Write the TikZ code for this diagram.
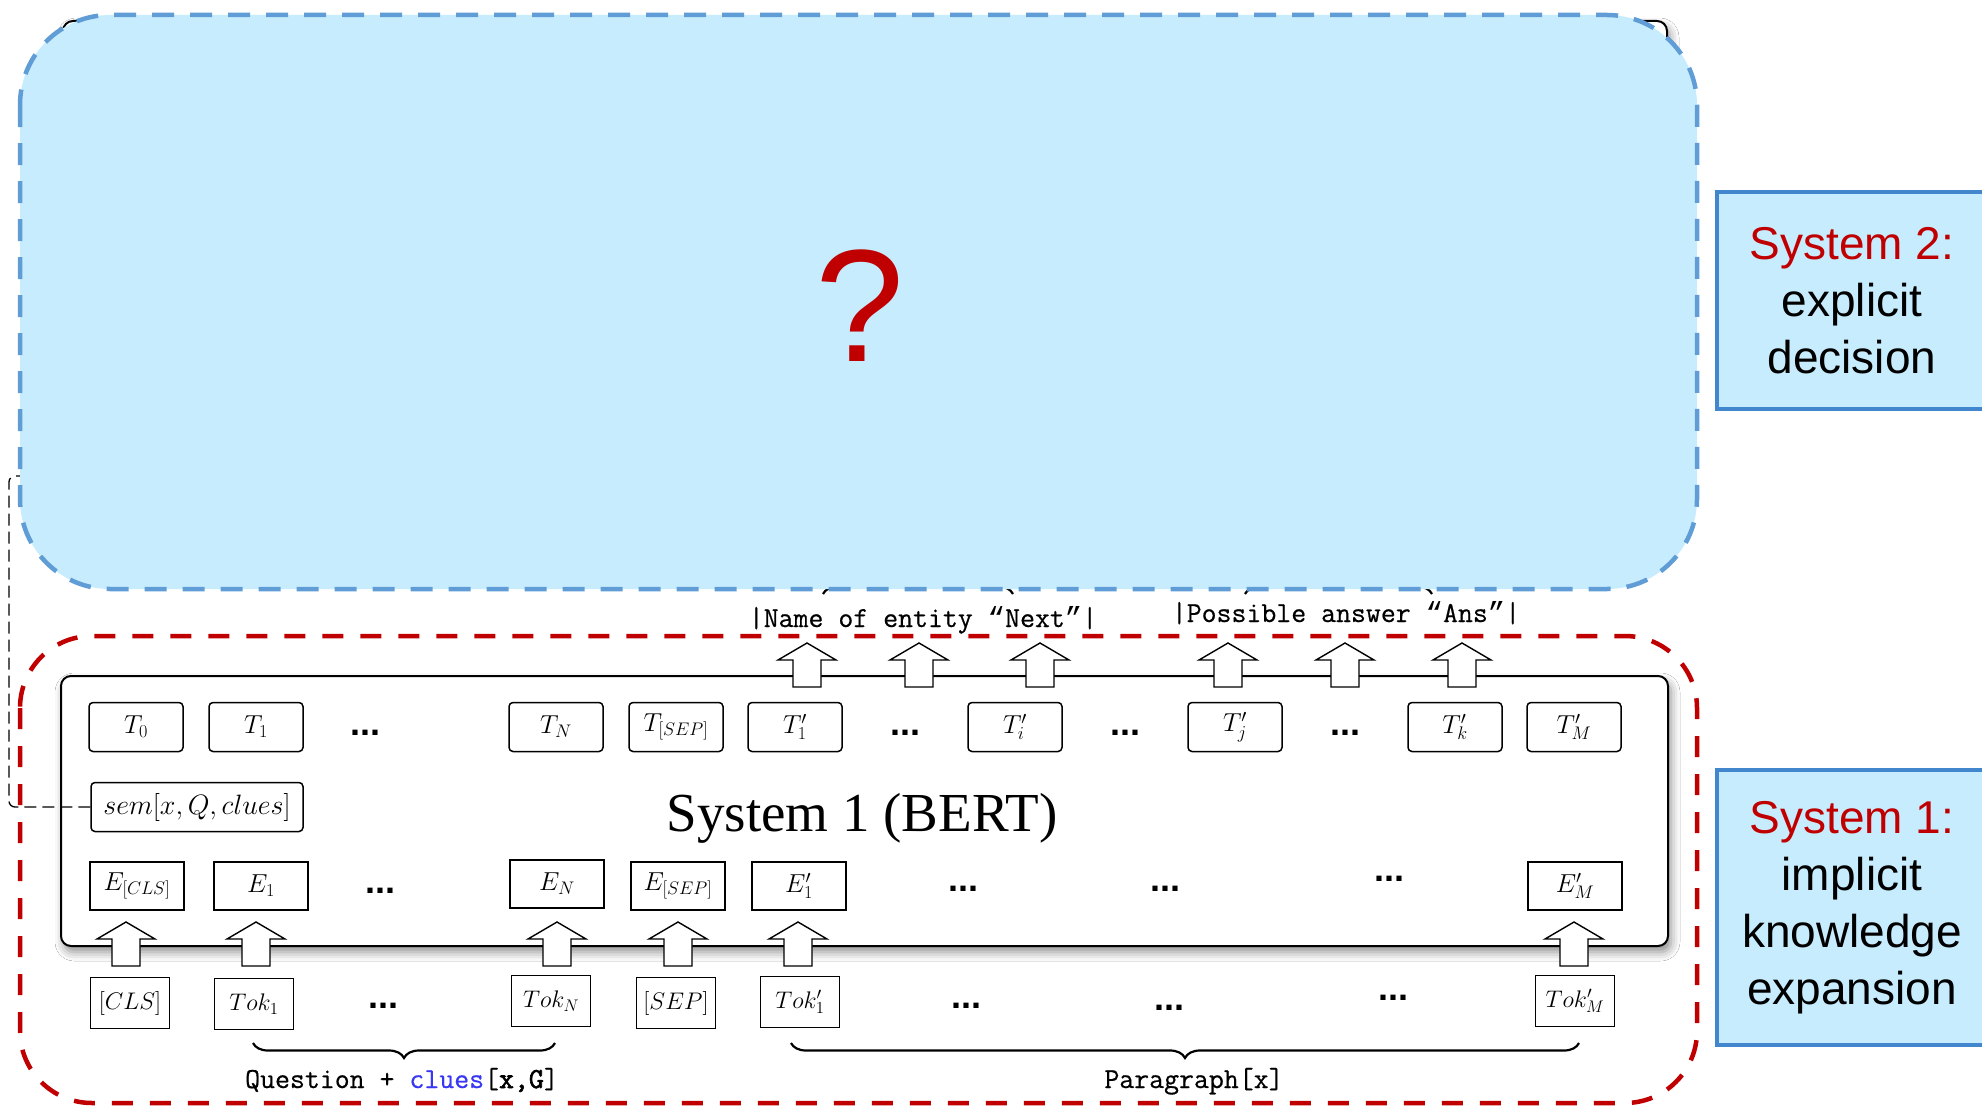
\documentclass[tikz,border=0pt]{standalone}
\usepackage{fix-cm}
\usepackage{fontspec}
\newfontfamily\serifT{Liberation Serif}
\newfontfamily\arial{Liberation Sans}
\newfontfamily\cour[FakeBold=0.5]{Latin Modern Mono}
\newfontfamily\courb[FakeBold=2.2]{Latin Modern Mono}
\newfontfamily\lmono{Liberation Mono}
\usetikzlibrary{decorations.pathreplacing,shadows.blur}
\definecolor{bluefill}{RGB}{199,236,253}
\definecolor{blueborder}{RGB}{96,157,214}
\definecolor{sysblue}{RGB}{66,135,206}
\definecolor{sysred}{RGB}{192,0,0}
\definecolor{clueblue}{RGB}{55,55,245}
\newcommand{\myLq}{{\lmono “}}
\newcommand{\myRq}{{\lmono ”}}
\begin{document}
\begin{tikzpicture}[x=1pt,y=-1pt,
  box/.style={draw, line width=1.5pt, fill=white, inner sep=0pt, font=\fontsize{26}{30}\selectfont},
  tbox/.style={box, rounded corners=4pt, minimum width=94pt, minimum height=49pt},
  ebox/.style={box, minimum width=94pt, minimum height=48pt},
  kbox/.style={box, minimum width=79pt, minimum height=51pt, font=\fontsize{24}{28}\selectfont},
  dotsn/.style={anchor=base, inner sep=0pt, font=\arial\bfseries\fontsize{36}{40}\selectfont},
  lab/.style={anchor=base, inner sep=0pt, font=\cour\fontsize{29}{32}\selectfont},
  sysbox/.style={draw=sysblue, line width=4pt, fill=bluefill, align=center, inner sep=0pt, font=\arial\fontsize{46}{57}\selectfont},
  blk/.style={line width=1.4pt, fill=white, line join=miter},
  uparr/.pic={\draw[blk] (-14,0) -- (-14,-27) -- (-29,-27) -- (0,-44) -- (29,-27) -- (14,-27) -- (14,0) -- cycle;},
  brc/.style={decorate, decoration={brace, amplitude=15pt}, line width=2.2pt},
  panelshadow/.style={blur shadow={shadow xshift=3pt, shadow yshift=-6pt, shadow blur radius=9pt, shadow opacity=45}},
]
\fill[white] (0,0) rectangle (1982,1108);
\clip (0,0) rectangle (1982,1108);

% hidden panel behind System 2
\draw[line width=2pt, fill=white, rounded corners=10pt, panelshadow] (63,21) rectangle (1667,540);
% braces mostly hidden under the System 2 area
\draw[brc] (823,594) -- (1013,594);
\draw[brc] (1245,594) -- (1432,594);

% System 1 red dashed region
\draw[sysred, line width=4.5pt, dash pattern=on 21pt off 17pt, rounded corners=72pt] (20,636) rectangle (1697,1103);

% BERT panel
\draw[line width=2pt, fill=white, rounded corners=10pt, panelshadow] (61,676) rectangle (1668,946);
\node[anchor=base, inner sep=0pt, font=\serifT\fontsize{55}{60}\selectfont] (bert) at (862,831) {System 1 (BERT)};

% T row
\node[tbox] (t0) at (136,727) {$T_0$};
\node[tbox] (t1) at (256,727) {$T_1$};
\node[tbox] (tn) at (556,727) {$T_N$};
\node[tbox] (tsep) at (676,727) {$T_{[SEP]}$};
\node[tbox] (tp1) at (795,727) {$T'_1$};
\node[tbox] (tpi) at (1015,727) {$T'_i$};
\node[tbox] (tpj) at (1235,727) {$T'_j$};
\node[tbox] (tpk) at (1455,727) {$T'_k$};
\node[tbox] (tpm) at (1574,727) {$T'_M$};
\node[dotsn] (td1) at (365,735) {...};
\node[dotsn] (td2) at (905,735) {...};
\node[dotsn] (td3) at (1125,735) {...};
\node[dotsn] (td4) at (1345,735) {...};

% sem box
\node[tbox, minimum width=212pt, font=\fontsize{28}{32}\selectfont] (sem) at (197,807) {$sem[x,Q,clues]$};

% E row
\node[ebox] (ecls) at (137,886) {$E_{[CLS]}$};
\node[ebox] (e1) at (261,886) {$E_1$};
\node[ebox] (en) at (557,884) {$E_N$};
\node[ebox] (esep) at (678,886) {$E_{[SEP]}$};
\node[ebox] (ep1) at (799,886) {$E'_1$};
\node[ebox] (epm) at (1575,886) {$E'_M$};
\node[dotsn] (ed1) at (380,893) {...};
\node[dotsn] (ed2) at (963,891) {...};
\node[dotsn] (ed3) at (1165,891) {...};
\node[dotsn] (ed4) at (1389,881) {...};

% Tok row
\node[kbox] (kcls) at (130,1003) {$[CLS]$};
\node[kbox] (k1) at (254,1004) {$Tok_1$};
\node[kbox] (kn) at (551,1001) {$Tok_N$};
\node[kbox] (ksep) at (676,1003) {$[SEP]$};
\node[kbox] (kp1) at (800,1002) {$Tok'_1$};
\node[kbox] (kpm) at (1575,1001) {$Tok'_M$};
\node[dotsn] (kd1) at (383,1008) {...};
\node[dotsn] (kd2) at (966,1008) {...};
\node[dotsn] (kd3) at (1169,1010) {...};
\node[dotsn] (kd4) at (1393,1000) {...};

% block arrows Tok -> E
\foreach \x in {126,256,557,678,798,1574} \pic at (\x,966) {uparr};
% block arrows T' -> labels
\foreach \x in {807,919,1040,1228,1345,1462} \pic at (\x,687) {uparr};

% braces under tokens
\draw[brc, decoration={mirror}] (253,1043) -- (555,1043);
\draw[brc, decoration={mirror}] (791,1043) -- (1579,1043);

% labels
\node[lab] (lname) at (923,627) {|Name of entity \myLq Next\myRq|};
\node[lab] (lans) at (1346,622) {|Possible answer \myLq Ans\myRq|};
\node[lab] (lq) at (402,1088) {Question + \textcolor{clueblue}{clues}[{\courb x,G}]};
\node[lab] (lp) at (1194,1088) {Paragraph[x]};

% dashed link from sem to System 2
\draw[line width=1.3pt, dash pattern=on 12pt off 6pt, rounded corners=6pt] (sem.west) -| (9,476) -- (50,476);

% System 2 region
\draw[blueborder, fill=bluefill, line width=4.5pt, dash pattern=on 22pt off 16pt, rounded corners=90pt] (20,15) rectangle (1697,589);
\node[anchor=base, inner sep=0pt, text=sysred, font=\arial\fontsize{160}{170}\selectfont] (q) at (860,361) {?};

% side labels
\node[sysbox, minimum width=270pt, minimum height=217pt] (s2) at (1852,300.5) {\textcolor{sysred}{System 2:}\\explicit\\decision};
\node[sysbox, minimum width=270pt, minimum height=275pt] (s1) at (1852,907.5) {\textcolor{sysred}{System 1:}\\implicit\\knowledge\\expansion};
\end{tikzpicture}
\end{document}
